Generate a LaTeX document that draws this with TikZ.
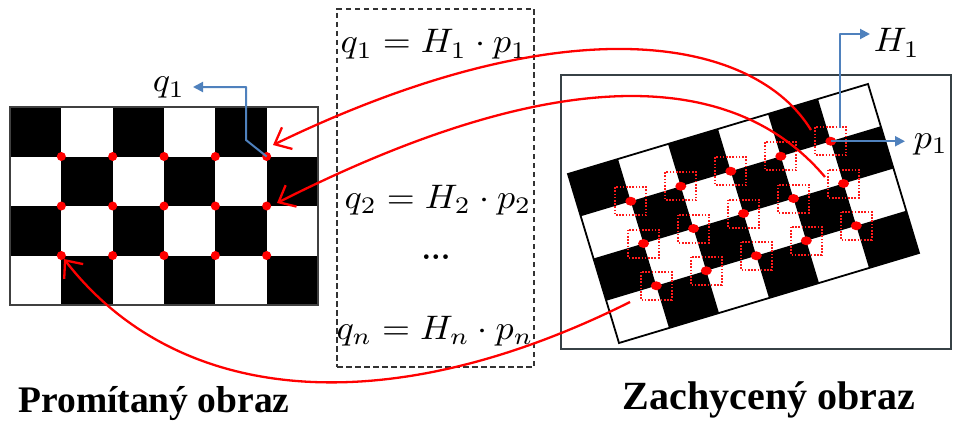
\documentclass[tikz,border=0pt]{standalone}
\usepackage{fontspec}
\newfontfamily\labfont{Liberation Serif}
\usetikzlibrary{arrows.meta,shapes.geometric}
\definecolor{myblue}{RGB}{79,129,189}
\definecolor{framegray}{RGB}{55,65,70}
\begin{document}
\begin{tikzpicture}[x=1pt,y=-1pt,
  redcurve/.style={draw=red,line width=2.3pt,-{Straight Barb[length=14pt,width=24pt]}},
  bluearrow/.style={draw=myblue,line width=2pt,-{Triangle[length=10pt,width=10pt]}},
  ldot/.style={circle,fill=red,minimum size=9pt,inner sep=0pt},
  rdot/.style={ellipse,fill=red,minimum width=11pt,minimum height=9pt,inner sep=0pt},
  dotsq/.style={draw=red!90,line width=2pt,dash pattern=on 1.6pt off 1.6pt},
  eqbox/.style={draw=black!80,line width=1.8pt,dash pattern=on 5.5pt off 3.5pt,inner sep=0pt},
  title/.style={anchor=base,font=\labfont\bfseries\fontsize{37.5}{42}\selectfont},
  mlabel/.style={anchor=base,inner sep=0pt},
]
\useasboundingbox (0,0) rectangle (953,428);
\fill[white] (0,0) rectangle (953,428);

% ---------- left checkerboard ----------
\begin{scope}[shift={(10,107)}]
\begin{scope}[x=51.333pt,y=-49.5pt]
  \foreach \i in {0,...,5}{
    \foreach \j in {0,...,3}{
      \pgfmathparse{int(mod(\i+\j,2))}
      \ifnum\pgfmathresult=0
        \fill[black] (\i,\j) rectangle ++(1,1);
      \fi
    }
  }
  \draw[draw=black!75,line width=2pt] (0,0) rectangle (6,4);
  \foreach \i in {1,...,5}{
    \foreach \j in {1,...,3}{
      \node[ldot] (L\i\j) at (\i,\j) {};
    }
  }
\end{scope}
\end{scope}

% ---------- right frame ----------
\node[draw=framegray,line width=2.2pt,minimum width=390pt,minimum height=274pt,inner sep=0pt] (frame) at (756,212) {};

% ---------- right (rotated) checkerboard ----------
\begin{scope}[shift={(568,174)}]
\begin{scope}[x={(50pt,15pt)},y={(12.75pt,-42.25pt)}]
  \foreach \i in {0,...,5}{
    \foreach \j in {0,...,3}{
      \pgfmathparse{int(mod(\i+\j,2))}
      \ifnum\pgfmathresult=0
        \fill[black] (\i,\j) -- (\i+1,\j) -- (\i+1,\j+1) -- (\i,\j+1) -- cycle;
      \fi
    }
  }
  \draw[black,line width=1.8pt,line join=miter] (0,0) -- (6,0) -- (6,4) -- (0,4) -- cycle;
  \foreach \i in {1,...,5}{
    \foreach \j in {1,...,3}{
      \node[rdot] (R\i\j) at (\i,\j) {};
    }
  }
\end{scope}
\end{scope}
\foreach \i in {1,...,5}{
  \foreach \j in {1,...,3}{
    \draw[dotsq] ([xshift=-15.5pt,yshift=14pt]R\i\j.center) rectangle ([xshift=15.5pt,yshift=-14pt]R\i\j.center);
  }
}

% ---------- equations box ----------
\node[eqbox,minimum width=197pt,minimum height=358pt] (box) at (435.5,188) {};
\node[mlabel] (eq1) at (434,53) {\scalebox{3.6}[3.4]{$q_1 = H_1 \cdot p_1$}};
\node[mlabel] (eq2) at (438,208) {\scalebox{3.6}[3.4]{$q_2 = H_2 \cdot p_2$}};
\node[mlabel] (eqd) at (436,259) {\scalebox{3}[3]{\textbf{...}}};
\node[mlabel] (eqn) at (435,339) {\scalebox{3.6}[3.4]{$q_n = H_n \cdot p_n$}};

% ---------- labels ----------
\node[mlabel] (q1lab) at (169,92) {\scalebox{3.6}[3.4]{$q_1$}};
\node[mlabel] (H1lab) at (897,52) {\scalebox{3.6}[3.4]{$H_1$}};
\node[mlabel] (p1lab) at (931,148) {\scalebox{3.6}[3.4]{$p_1$}};
\node[title] (tleft) at (154,412) {Promítaný obraz};
\node[title,font=\labfont\bfseries\fontsize{40}{44}\selectfont] (tright) at (769,409) {Zachycený obraz};

% ---------- red correspondence curves ----------
\coordinate (c1s) at (811,130);
\coordinate (c1e) at (273,145);
\coordinate (c2s) at (825,177);
\coordinate (c2e) at (277,203);
\coordinate (c3s) at (630,302);
\coordinate (c3e) at (64,259);
\draw[redcurve] (c1s) .. controls (756,40) and (573,0) .. (c1e);
\draw[redcurve] (c2s) .. controls (735,70) and (560,60) .. (c2e);
\draw[redcurve] (c3s) .. controls (390,422) and (179,407) .. (c3e);

% ---------- blue arrows ----------
\coordinate (qb1) at (246,140);
\coordinate (qb2) at (246,87);
\coordinate (qtip) at (193,87);
\draw[bluearrow,line join=round] (L51.center) -- (qb1) -- (qb2) -- (qtip);
\coordinate (ptip) at (905,141.25);
\draw[bluearrow] (R51.center) -- (ptip);
\coordinate (hb0) at (840,128);
\coordinate (hb1) at (840,34);
\coordinate (htip) at (870,34);
\draw[bluearrow,line join=round] (hb0) -- (hb1) -- (htip);
\end{tikzpicture}
\end{document}
